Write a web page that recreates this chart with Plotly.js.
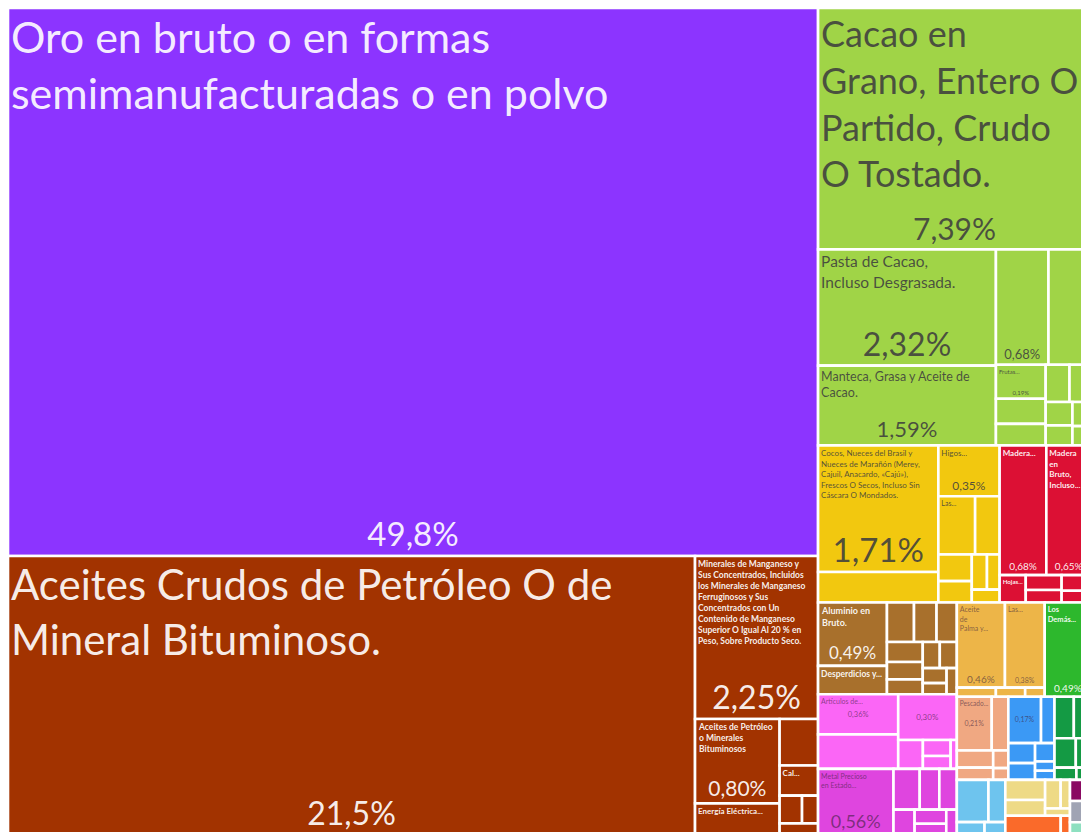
<!DOCTYPE html>
<html><head><meta charset="utf-8">
<script src="https://cdn.plot.ly/plotly-3.0.1.min.js"></script>
<style>html,body{margin:0;padding:0;overflow:hidden;background:#fff}</style>
</head><body><div id="chart"></div>
<script>
// ---------------- DATA ----------------
const sectorNames = [
  "Metales preciosos", "Productos minerales", "Productos alimenticios", "Productos vegetales",
  "Productos de madera", "Metales", "Máquinas", "Instrumentos", "Grasas animales y vegetales",
  "Productos químicos", "Productos animales", "Transporte", "Textiles", "Plásticos y cauchos",
  "Papel", "Piedra y vidrio", "Calzado", "Diversos", "Armas"
];
const productNames = [
  "Oro en bruto o en formas<br>semimanufacturadas o en polvo",
  "Aceites Crudos de Petróleo O de<br>Mineral Bituminoso.",
  "Minerales de Manganeso y<br>Sus Concentrados, Incluidos<br>los Minerales de Manganeso<br>Ferruginosos y Sus<br>Concentrados con Un<br>Contenido de Manganeso<br>Superior O Igual Al 20 % en<br>Peso, Sobre Producto Seco.",
  "Aceites de Petróleo<br>o Minerales<br>Bituminosos",
  "Energía Eléctrica...", "", "Cal...", "", "", "",
  "Cacao en<br>Grano, Entero O<br>Partido, Crudo<br>O Tostado.",
  "Pasta de Cacao,<br>Incluso Desgrasada.",
  "Manteca, Grasa y Aceite de<br>Cacao.",
  "", "", "Frutas...", "", "", "", "", "", "", "", "",
  "Cocos, Nueces del Brasil y<br>Nueces de Marañón (Merey,<br>Cajuil, Anacardo, «Cajú»),<br>Frescos O Secos, Incluso Sin<br>Cáscara O Mondados.",
  "", "Higos...", "Las...", "", "", "", "", "", "",
  "Madera...", "Madera<br>en<br>Bruto,<br>Incluso...", "Hojas...", "", "", "", "", "",
  "Aluminio en<br>Bruto.", "Desperdicios y...", "", "", "", "", "", "", "", "", "", "", "",
  "Artículos de...", "", "", "", "", "", "",
  "Metal Precioso<br>en Estado...", "", "", "", "", "", "", "",
  "Aceite<br>de<br>Palma y...", "Las...", "", "", "",
  "Los<br>Demás...",
  "Pescado...", "", "", "", "", "",
  "", "", "", "", "", "", "",
  "", "", "", "", "", "",
  "", "", "", "",
  "", "", "", "", "",
  "", "",
  "", "",
  "",
  ""
];
const productSector = [
  0,
  1, 1, 1, 1, 1, 1, 1, 1, 1,
  2, 2, 2, 2, 2, 2, 2, 2, 2, 2, 2, 2, 2, 2,
  3, 3, 3, 3, 3, 3, 3, 3, 3, 3,
  4, 4, 4, 4, 4, 4, 4, 4,
  5, 5, 5, 5, 5, 5, 5, 5, 5, 5, 5, 5, 5,
  6, 6, 6, 6, 6, 6, 6,
  7, 7, 7, 7, 7, 7, 7, 7,
  8, 8, 8, 8, 8,
  9,
  10, 10, 10, 10, 10, 10,
  11, 11, 11, 11, 11, 11, 11,
  12, 12, 12, 12, 12, 12,
  13, 13, 13, 13,
  14, 14, 14, 14, 14,
  15, 15,
  16, 16,
  17,
  18
];
const productValues = [
  49.8,
  21.5, 2.25, 0.80, 0.30, 0.20, 0.13, 0.07, 0.05, 0.05,
  7.39, 2.32, 1.59, 0.68, 0.55, 0.19, 0.14, 0.12, 0.10, 0.09, 0.07, 0.06, 0.05, 0.04,
  1.71, 0.41, 0.35, 0.24, 0.16, 0.10, 0.08, 0.06, 0.05, 0.04,
  0.68, 0.65, 0.08, 0.06, 0.05, 0.04, 0.03, 0.02,
  0.49, 0.22, 0.12, 0.10, 0.09, 0.08, 0.07, 0.06, 0.05, 0.05, 0.04, 0.03, 0.03,
  0.36, 0.31, 0.30, 0.08, 0.05, 0.04, 0.02,
  0.56, 0.12, 0.09, 0.08, 0.06, 0.05, 0.04, 0.03,
  0.46, 0.38, 0.04, 0.03, 0.02,
  0.49,
  0.21, 0.10, 0.07, 0.05, 0.03, 0.02,
  0.17, 0.07, 0.06, 0.05, 0.04, 0.02, 0.02,
  0.09, 0.08, 0.07, 0.05, 0.03, 0.02,
  0.15, 0.08, 0.04, 0.03,
  0.09, 0.07, 0.05, 0.03, 0.02,
  0.12, 0.02,
  0.03, 0.02,
  0.05,
  0.03
];

// ---------------- STYLE ----------------
const sectorColors = [
  "#8C34FF", "#A23300", "#A0D447", "#F2C80F", "#DC1034", "#A8702C", "#FB66F6", "#DF45DF",
  "#EDB548", "#2DB82D", "#F0A882", "#3B99F5", "#149A44", "#6EC4EE", "#EEDA86", "#FA6A2A",
  "#8A0A62", "#A0A4B4", "#8EE0C0"
];
const LIGHT = "rgba(255,255,255,0.93)";
const DARK = "rgba(62,62,62,0.88)";
const DIM = "rgba(60,30,60,0.6)";
const sectorTextColors = [
  LIGHT, LIGHT, DARK, DARK, LIGHT, LIGHT, DIM, DIM, DIM, LIGHT, DIM, DIM,
  LIGHT, DIM, DIM, LIGHT, LIGHT, DIM, DIM
];
// label font size per product index (top-left label)
const labelSize = {0:43, 1:42, 2:8.5, 3:8.5, 4:8, 6:8, 10:36, 11:15.5, 12:12.5, 15:6, 24:8,
  26:8, 27:7, 34:8, 35:8, 36:8, 42:9, 43:8.5, 55:7, 62:7, 70:7, 71:7, 75:7.5, 76:7};
const boldLabel = {2:1, 3:1, 4:1, 6:1, 34:1, 35:1, 36:1, 42:1, 43:1, 75:1};
// percentage placed at bottom centre (size)
const pctBottom = {0:33, 1:32, 2:32, 3:21, 10:30, 11:32, 12:22, 13:13, 15:6, 24:33, 26:12,
  34:10, 35:10, 42:17, 62:18, 70:10, 71:7, 75:10};
// percentage placed in the middle (size)
const pctMiddle = {55:7.5, 57:8, 76:7, 82:7};

const FONT = "Lato, 'Source Sans Pro', 'Open Sans', sans-serif";

function fmtPct(v) {
  return (v >= 10 ? v.toFixed(1) : v.toFixed(2)).replace('.', ',') + '%';
}

const ids = [], labels = [], parents = [], values = [], colors = [], tcolors = [];
const txtTop = [], szTop = [], txtBot = [], szBot = [], txtMid = [], szMid = [];
sectorNames.forEach((s, i) => {
  ids.push('s' + i); labels.push(s); parents.push(''); values.push(0);
  colors.push(sectorColors[i]); tcolors.push(sectorTextColors[i]);
  txtTop.push(''); szTop.push(10); txtBot.push(''); szBot.push(10); txtMid.push(''); szMid.push(10);
});
productValues.forEach((v, i) => {
  const s = productSector[i];
  ids.push('p' + i);
  labels.push(productNames[i] || (sectorNames[s] + ' ' + i));
  parents.push('s' + s);
  values.push(v);
  colors.push(sectorColors[s]);
  tcolors.push(sectorTextColors[s]);
  const name = productNames[i];
  if (name && labelSize[i]) {
    txtTop.push(boldLabel[i] ? '<b>' + name + '</b>' : name); szTop.push(labelSize[i]);
  } else { txtTop.push(''); szTop.push(10); }
  if (pctBottom[i]) { txtBot.push(fmtPct(v)); szBot.push(pctBottom[i]); } else { txtBot.push(''); szBot.push(10); }
  if (pctMiddle[i]) { txtMid.push(fmtPct(v)); szMid.push(pctMiddle[i]); } else { txtMid.push(''); szMid.push(10); }
});

function makeTrace(text, sizes, pos, visibleFill) {
  return {
    type: 'treemap',
    ids: ids, labels: labels, parents: parents, values: values,
    branchvalues: 'remainder',
    sort: true,
    text: text,
    texttemplate: '%{text}',
    textposition: pos,
    textfont: {family: FONT, size: sizes, color: tcolors},
    marker: {
      colors: visibleFill ? colors : colors.map(() => 'rgba(0,0,0,0)'),
      line: {color: visibleFill ? '#ffffff' : 'rgba(0,0,0,0)', width: visibleFill ? 2.6 : 0},
      pad: {t: 0, l: 0, r: 0, b: 0},
      depthfade: false
    },
    leaf: {opacity: 1},
    pathbar: {visible: false},
    tiling: {packing: 'squarify', squarifyratio: 1.618, pad: 0},
    hoverinfo: 'skip',
    domain: {x: [0, 1], y: [0, 1]}
  };
}

const data = [
  makeTrace(txtTop, szTop, 'top left', true),
  makeTrace(txtBot, szBot, 'bottom center', false),
  makeTrace(txtMid, szMid, 'middle center', false)
];
const layout = {
  width: 1094, height: 840,
  margin: {l: 8, r: 3, t: 8, b: 5},
  paper_bgcolor: '#ffffff',
  font: {family: FONT},
  showlegend: false
};
Plotly.newPlot('chart', data, layout, {displayModeBar: false, staticPlot: true});
</script>
</body></html>
